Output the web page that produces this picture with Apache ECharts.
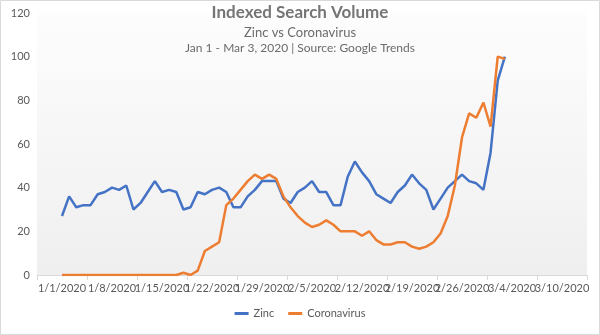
<!DOCTYPE html>
<html>
<head>
<meta charset="utf-8">
<script src="https://cdn.jsdelivr.net/npm/echarts@6/dist/echarts.min.js"></script>
<style>html,body{margin:0;padding:0;background:#fff}#c{width:600px;height:335px}</style>
</head>
<body>
<div id="c"></div>
<script>
// Weekly tick labels of the date axis
var tickLabels = ['1/1/2020','1/8/2020','1/15/2020','1/22/2020','1/29/2020','2/5/2020','2/12/2020','2/19/2020','2/26/2020','3/4/2020','3/10/2020'];
// Daily values, Jan 1 .. Mar 3, 2020 (63 days)
var zinc = [27,36,31,32,32,37,38,40,39,41,30,33,38,43,38,39,38,30,31,38,37,39,40,38,31,31,36,39,43,43,43,35,33,38,40,43,38,38,32,32,45,52,47,43,37,35,33,38,41,46,42,39,30,35,40,43,46,43,42,39,56,89,100];
var coronavirus = [0,0,0,0,0,0,0,0,0,0,0,0,0,0,0,0,0,1,0,2,11,13,15,32,35,39,43,46,44,46,44,36,31,27,24,22,23,25,23,20,20,20,18,20,16,14,14,15,15,13,12,13,15,19,27,41,63,74,72,79,68,100,99];
var yTicks = {min: 0, max: 120, interval: 20};

function pairs(arr){ return arr.map(function(v,i){ return [i, v]; }); }

var chart = echarts.init(document.getElementById('c'), null, {renderer:'canvas'});
var font = 'Lato, "Open Sans", sans-serif';
chart.setOption({
  animation: false,
  backgroundColor: '#ffffff',
  title: [
    {text: 'Indexed Search Volume', left: 'center', top: 4, padding: 0, textStyle: {fontFamily: font, fontSize: 17, fontWeight: 'bold', color: '#757575'}},
    {text: 'Zinc vs Coronavirus', left: 'center', top: 26, padding: 0, textStyle: {fontFamily: font, fontSize: 13, fontWeight: 'normal', color: '#6b6b6b'}},
    {text: 'Jan 1 - Mar 3, 2020 | Source: Google Trends', left: 'center', top: 42, padding: 0, textStyle: {fontFamily: font, fontSize: 12, fontWeight: 'normal', color: '#6b6b6b'}}
  ],
  legend: {
    bottom: 11, left: 'center', icon: 'rect', itemWidth: 14, itemHeight: 3, itemGap: 14,
    textStyle: {fontFamily: font, fontSize: 11, color: '#595959'},
    data: ['Zinc', 'Coronavirus']
  },
  grid: {
    left: 37, right: 13, top: 13, bottom: 60, show: true, borderWidth: 0,
    backgroundColor: new echarts.graphic.LinearGradient(0, 0, 0, 1, [{offset: 0, color: '#fdfdfd'}, {offset: 1, color: '#efefef'}])
  },
  xAxis: [
    {
      type: 'category', data: tickLabels, boundaryGap: true,
      axisLine: {lineStyle: {color: '#d9d9d9'}},
      axisTick: {show: true, length: 5, lineStyle: {color: '#d9d9d9'}},
      axisLabel: {fontFamily: font, fontSize: 11, color: '#595959', margin: 8, interval: 0},
      splitLine: {show: false}
    },
    {type: 'value', min: -3.5, max: 73.5, show: false, splitLine: {show: false}}
  ],
  yAxis: {
    type: 'value', min: yTicks.min, max: yTicks.max, interval: yTicks.interval,
    axisLine: {show: false}, axisTick: {show: false}, splitLine: {show: false},
    axisLabel: {fontFamily: font, fontSize: 11, color: '#595959', margin: 7}
  },
  series: [
    {name: 'Zinc', type: 'line', xAxisIndex: 1, data: pairs(zinc), showSymbol: false, symbol: 'none',
     lineStyle: {color: '#4472C4', width: 2.5}, itemStyle: {color: '#4472C4'}},
    {name: 'Coronavirus', type: 'line', xAxisIndex: 1, data: pairs(coronavirus), showSymbol: false, symbol: 'none',
     lineStyle: {color: '#ED7D31', width: 2.5}, itemStyle: {color: '#ED7D31'}}
  ],
  graphic: [{type: 'rect', shape: {x: 0.5, y: 0.5, width: 599, height: 334}, style: {fill: 'none', stroke: '#d9d9d9', lineWidth: 1}, silent: true}]
});
</script>
</body>
</html>
